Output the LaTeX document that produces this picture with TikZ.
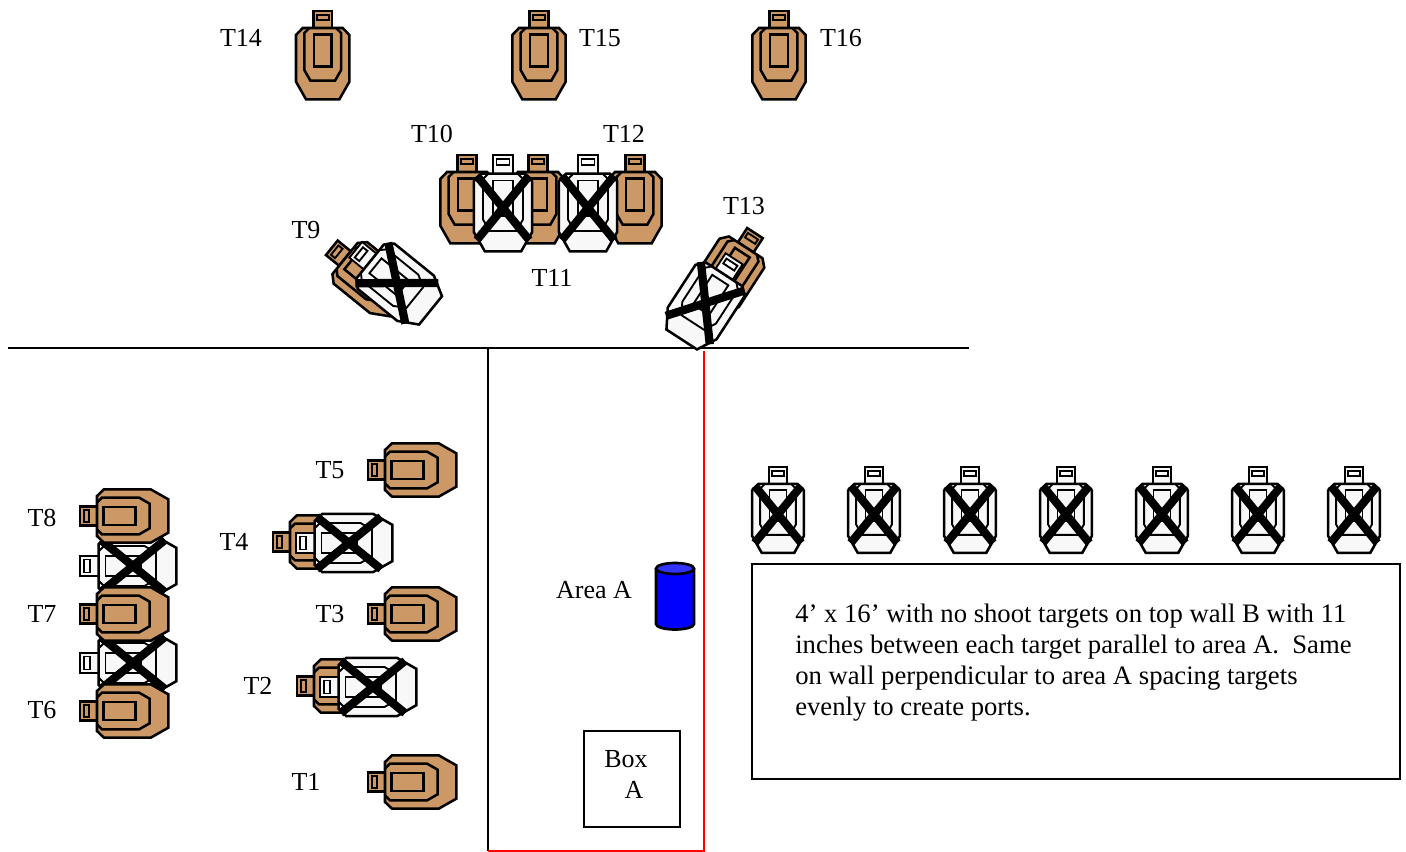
\documentclass[tikz,border=0pt]{standalone}
\usepackage{fontspec}
\setmainfont{Liberation Serif}
\definecolor{tan}{HTML}{CC9966}
\definecolor{paper}{HTML}{F8F8F8}
\definecolor{canblue}{HTML}{0000FF}
\definecolor{cantop}{HTML}{3333FF}
\tikzset{
  lbl/.style={inner sep=0pt,font=\fontsize{19.5}{23.25}\selectfont},
  outline/.style={draw=black,line width=1.9pt,line join=miter},
  thin outline/.style={draw=black,line width=1.4pt},
  cross/.style={draw=black,line width=6.2pt},
  pics/browntarget/.style={code={
    \draw[outline,fill=tan] (-9.3,-44) rectangle (9.3,-27);
    \draw[thin outline,fill=tan] (-6,-40.3) rectangle (6,-35);
    \draw[outline,fill=tan] (-20,-27)--(20,-27)--(26.7,-20)--(26.7,26.7)--(16.7,44.3)--(-16.7,44.3)--(-26.7,26.7)--(-26.7,-20)--cycle;
    \draw[outline] (-13.4,-27)--(-18.4,-22)--(-18.4,15)--(-12.3,25.7)--(12.3,25.7)--(18.4,15)--(18.4,-22)--(13.4,-27);
    \draw[outline] (-8.8,-20.7) rectangle (8.8,11.7);
  }},
  pics/whitetarget/.style={code={
    \draw[thin outline,fill=paper] (-9.3,-44) rectangle (9.3,-27);
    \draw[thin outline,fill=white] (-6,-40.3) rectangle (6,-35);
    \draw[outline,fill=paper] (-20,-27)--(20,-27)--(26.7,-20)--(26.7,26.7)--(16.7,44.3)--(-16.7,44.3)--(-26.7,26.7)--(-26.7,-20)--cycle;
    \draw[thin outline] (-13.4,-27)--(-18.4,-22)--(-18.4,15)--(-12.3,25.7)--(12.3,25.7)--(18.4,15)--(18.4,-22)--(13.4,-27);
    \draw[thin outline] (-8.8,-20.7) rectangle (8.8,11.7);
    \draw[cross] (-24,-25)--(24,34);
    \draw[cross] (24,-25)--(-24,34);
  }}
}
\begin{document}
\begin{tikzpicture}[x=0.75pt,y=-0.75pt]
\useasboundingbox (0,0) rectangle (1406,852);
% walls
\coordinate (wl) at (8,348); \coordinate (wr) at (969,348);
\coordinate (vt) at (488,348); \coordinate (vb) at (488,851);
\coordinate (rt) at (704,351); \coordinate (rb) at (704,851);
\draw[line width=1.4pt] (wl)--(wr);
\draw[line width=1.4pt] (vt)--(vb);
\draw[red,line width=1.4pt] (vb)--(rb)--(rt);
% top row
\pic (t14) at (322.7,55) {browntarget};
\pic (t15) at (539,55) {browntarget};
\pic (t16) at (779,55) {browntarget};
% middle group
\pic (t10) at (467,199) {browntarget};
\pic (t11) at (538,199) {browntarget};
\pic (t12) at (635,199) {browntarget};
\pic[scale=1.09] (n1) at (503,203) {whitetarget};
\pic[scale=1.09] (n2) at (588,203) {whitetarget};
% angled
\pic[rotate=51] (t9) at (366,275.5) {browntarget};
\pic[rotate=51,scale=1.09] (n3) at (393,280) {whitetarget};
\pic[rotate=-33] (t13) at (731,270) {browntarget};
\pic[rotate=-33,scale=1.09] (n4) at (708,299) {whitetarget};
% left column
\pic[rotate=90,scale=1.09] (n5) at (128,566) {whitetarget};
\pic[rotate=90,scale=1.09] (n6) at (128,663) {whitetarget};
\pic[rotate=90] (t8) at (124,516) {browntarget};
\pic[rotate=90] (t7) at (124,614) {browntarget};
\pic[rotate=90] (t6) at (124,711) {browntarget};
% second column
\pic[rotate=90] (t5) at (412,470) {browntarget};
\pic[rotate=90] (t3) at (412,614) {browntarget};
\pic[rotate=90] (t1) at (412,782) {browntarget};
\pic[rotate=90] (t4) at (317,542) {browntarget};
\pic[rotate=90,scale=1.09] (n7) at (344,543) {whitetarget};
\pic[rotate=90] (t2) at (341,686) {browntarget};
\pic[rotate=90,scale=1.09] (n8) at (368,687) {whitetarget};
% right row
\foreach \cx/\nm in {778/a,874/b,970/c,1066/d,1162/e,1258/f,1354/g}
  \pic[scale=0.97] (r\nm) at (\cx,510) {whitetarget};
% can
\draw[line width=2pt,fill=canblue] (656,568.5) -- (656,624) arc[start angle=180,end angle=0,x radius=19,y radius=5.5] -- (694,568.5);
\draw[line width=2pt,fill=cantop] (675,568.5) ellipse[x radius=19,y radius=5.5];
% boxes
\node[draw,line width=1.5pt,minimum width=72pt,minimum height=72pt,inner sep=0pt,anchor=north west] (boxa) at (583,730) {};
\node[draw,line width=1.5pt,minimum width=486pt,minimum height=161.25pt,inner sep=0pt,anchor=north west] (note) at (751,563) {};
\node[inner sep=0pt,font=\fontsize{20}{23.25}\selectfont,anchor=north west,align=left] (notetext) at (795,603.5) {4’ x 16’ with no shoot targets on top wall B with 11\\inches between each target parallel to area A.\ \ Same\\on wall perpendicular to area A spacing targets\\evenly to create ports.};
\node[lbl] (boxl) at (626,759) {Box};
\node[lbl] (al) at (634,790) {A};
\node[lbl] (area) at (594,590) {Area A};
% labels
\node[lbl] (l14) at (241,38) {T14};
\node[lbl] (l15) at (600,38) {T15};
\node[lbl] (l16) at (841,38) {T16};
\node[lbl] (l10) at (432,134) {T10};
\node[lbl] (l12) at (624,134) {T12};
\node[lbl] (l13) at (744,206) {T13};
\node[lbl] (l11) at (552,278) {T11};
\node[lbl] (l9) at (306,230) {T9};
\node[lbl] (l8) at (42,518) {T8};
\node[lbl] (l7) at (42,614) {T7};
\node[lbl] (l6) at (42,710) {T6};
\node[lbl] (l5) at (330,470) {T5};
\node[lbl] (l4) at (234,542) {T4};
\node[lbl] (l3) at (330,614) {T3};
\node[lbl] (l2) at (258,686) {T2};
\node[lbl] (l1) at (306,782) {T1};
\end{tikzpicture}
\end{document}
